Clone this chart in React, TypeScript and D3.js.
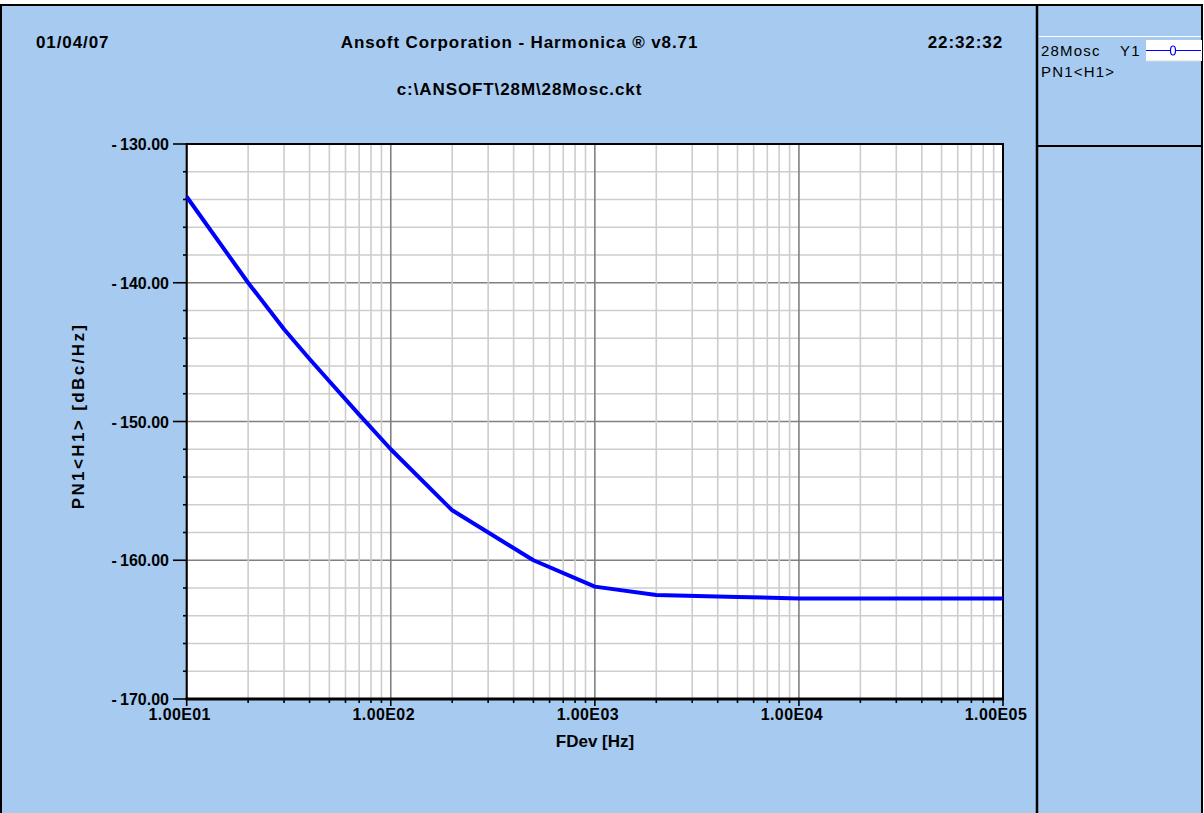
import React from "react";
import * as d3 from "d3";

const freqHz = [10, 20, 30, 40, 50, 70, 100, 200, 500, 1000, 2000, 5000, 10000, 20000, 50000, 100000];
const pn1H1 = [-133.8, -140.0, -143.35, -145.5, -147.1, -149.5, -152.0, -156.4, -160.0, -161.9, -162.5, -162.65, -162.75, -162.75, -162.75, -162.75];
const yTickValues = [-130, -140, -150, -160, -170];
const xTickValues = [10, 100, 1000, 10000, 100000];
const xTickLabels = ["1.00E01", "1.00E02", "1.00E03", "1.00E04", "1.00E05"];

const W = 1204;
const H = 813;
const L = 186.7, R = 1003, T = 144, B = 699;
const BG = "#A6CAF0";
const FONT = "'Liberation Sans', Arial, sans-serif";

export default function App() {
  const x = d3.scaleLog().domain([10, 1e5]).range([L, R]);
  const y = d3.scaleLinear().domain([-170, -130]).range([B, T]);

  const minorX: number[] = [];
  for (let d = 10; d < 1e5; d *= 10) {
    for (let k = 1; k <= 9; k++) minorX.push(d * k);
  }
  minorX.push(1e5);
  const yMinor = d3.range(-170, -129, 2);

  const line = d3
    .line<number>()
    .x((_, i) => x(freqHz[i]))
    .y((v) => y(v))
    .curve(d3.curveLinear);

  const hdr = { fontFamily: FONT, fontWeight: "bold" as const, fontSize: 17, letterSpacing: 0.9, fill: "#000" };
  const leg = { fontFamily: FONT, fontSize: 15, letterSpacing: 1.2, fill: "#000" };

  return (
    <div style={{ position: "absolute", left: 0, top: 0 }}>
      <svg width={W} height={H} style={{ display: "block" }}>
        <rect x={0} y={0} width={W} height={H} fill="#ffffff" />
        <rect x={1} y={5} width={1201} height={H} fill={BG} stroke="#000" strokeWidth={2} />
        {/* legend panel */}
        <line x1={1037} x2={1037} y1={5} y2={H} stroke="#000" strokeWidth={2.5} />
        <line x1={1038} x2={1201} y1={146} y2={146} stroke="#000" strokeWidth={2} />
        <line x1={1039} x2={1201} y1={36.5} y2={36.5} stroke="#ffffff" strokeWidth={1} />
        <text x={1041} y={56} {...leg}>28Mosc</text>
        <text x={1120} y={56} {...leg}>Y1</text>
        <text x={1041} y={77} {...leg}>PN1&lt;H1&gt;</text>
        <rect x={1146} y={40} width={56} height={21} fill="#ffffff" />
        <line x1={1146} x2={1201} y1={61} y2={61} stroke="#d8d8d8" strokeWidth={1} />
        <line x1={1146} x2={1201} y1={50.5} y2={50.5} stroke="#0000ff" strokeWidth={1.2} />
        <ellipse cx={1173} cy={50.5} rx={2.5} ry={4.5} fill="#ffffff" stroke="#0000ff" strokeWidth={1.2} />

        {/* header */}
        <text x={36} y={48} {...hdr}>01/04/07</text>
        <text x={519.5} y={48} textAnchor="middle" {...hdr}>
          Ansoft Corporation - Harmonica ® v8.71
        </text>
        <text x={1003} y={48} textAnchor="end" {...hdr}>22:32:32</text>
        <text x={519.5} y={95} textAnchor="middle" {...hdr}>
          c:\ANSOFT\28M\28Mosc.ckt
        </text>

        {/* plot area */}
        <rect x={L} y={T} width={R - L} height={B - T} fill="#ffffff" />
        {yMinor.map((v) => (
          <line
            key={"hy" + v}
            x1={L}
            x2={R}
            y1={y(v)}
            y2={y(v)}
            stroke={v % 10 === 0 ? "#808080" : "#cdcdcd"}
            strokeWidth={1.6}
          />
        ))}
        {minorX.map((f) => {
          const major = Math.abs(Math.log10(f) - Math.round(Math.log10(f))) < 1e-9;
          return (
            <line
              key={"vx" + f}
              x1={x(f)}
              x2={x(f)}
              y1={T}
              y2={B}
              stroke={major ? "#808080" : "#cdcdcd"}
              strokeWidth={1.6}
            />
          );
        })}
        <rect x={L} y={T} width={R - L} height={B - T} fill="none" stroke="#000" strokeWidth={2} />
        <line x1={L - 1} x2={R + 1} y1={B} y2={B} stroke="#000" strokeWidth={3} />

        {/* y ticks */}
        {yMinor.map((v) => (
          <line
            key={"ty" + v}
            x1={v % 10 === 0 ? 173 : 183}
            x2={L}
            y1={y(v)}
            y2={y(v)}
            stroke="#000"
            strokeWidth={1.6}
          />
        ))}
        {yTickValues.map((v) => (
          <text
            key={"ly" + v}
            x={169}
            y={y(v) + 6}
            textAnchor="end"
            fontFamily={FONT}
            fontWeight="bold"
            fontSize={16}
            fill="#000"
          >
            {"-" + "\u2009" + Math.abs(v).toFixed(2)}
          </text>
        ))}

        {/* x ticks */}
        {minorX.map((f) => {
          const major = xTickValues.includes(f);
          return (
            <line
              key={"tx" + f}
              x1={x(f)}
              x2={x(f)}
              y1={B}
              y2={major ? B + 7 : B + 4}
              stroke="#000"
              strokeWidth={1.6}
            />
          );
        })}
        {xTickValues.map((f, i) => (
          <text
            key={"lx" + f}
            x={x(f) - 7}
            y={720}
            textAnchor="middle"
            fontFamily={FONT}
            fontWeight="bold"
            fontSize={16}
            letterSpacing={0.4}
            fill="#000"
          >
            {xTickLabels[i]}
          </text>
        ))}

        {/* axis titles */}
        <text x={595} y={747} textAnchor="middle" fontFamily={FONT} fontWeight="bold" fontSize={17} fill="#000">
          FDev [Hz]
        </text>
        <text
          transform="translate(84,416) rotate(-90)"
          textAnchor="middle"
          fontFamily={FONT}
          fontWeight="bold"
          fontSize={17}
          letterSpacing={2.4}
          fill="#000"
        >
          PN1&lt;H1&gt; [dBc/Hz]
        </text>

        {/* data */}
        <path d={line(pn1H1) || ""} fill="none" stroke="#0000ff" strokeWidth={4} strokeLinejoin="round" />
      </svg>
    </div>
  );
}
